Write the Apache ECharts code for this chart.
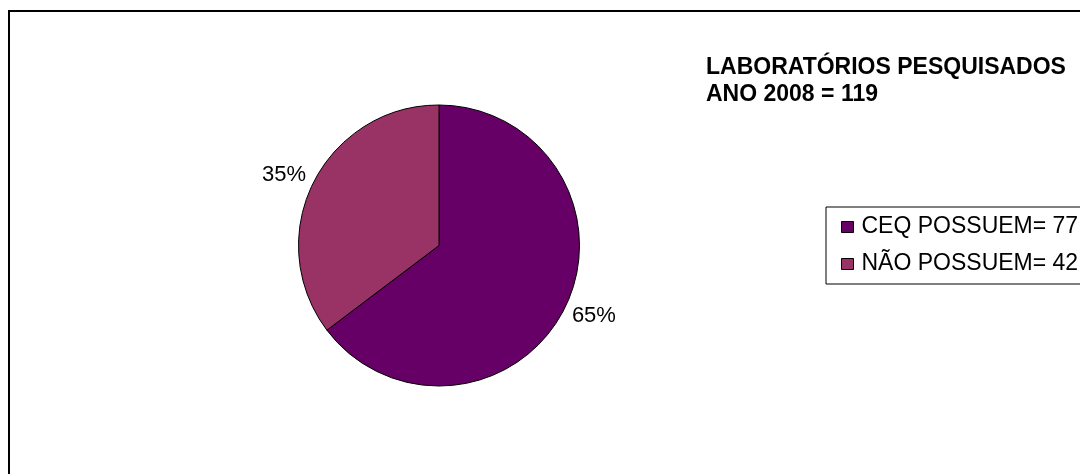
<!DOCTYPE html>
<html>
<head>
<meta charset="utf-8">
<script src="https://cdn.jsdelivr.net/npm/echarts@6/dist/echarts.min.js"></script>
<style>
  html, body { margin: 0; padding: 0; background: #fff; }
  #chart { width: 1080px; height: 474px; }
</style>
</head>
<body>
<div id="chart"></div>
<script>
// Laboratories surveyed in 2008, split by whether they have CEQ
const categories = ['CEQ POSSUEM', 'NÃO POSSUEM'];
const counts = [77, 42];
const sliceColors = ['#660066', '#993366'];
const titleLines = ['LABORATÓRIOS PESQUISADOS', 'ANO 2008 = 119'];

const FONT = '"Liberation Sans", Arial, sans-serif';

const chart = echarts.init(document.getElementById('chart'), null, { renderer: 'canvas' });

const pieData = categories.map((name, i) => ({
  name: name,
  value: counts[i],
  itemStyle: { color: sliceColors[i] }
}));

chart.setOption({
  backgroundColor: '#ffffff',
  animation: false,
  title: {
    text: titleLines.join('\n'),
    left: 706,
    top: 54,
    padding: 0,
    textStyle: {
      fontFamily: FONT,
      fontSize: 23,
      fontWeight: 'bold',
      color: '#000',
      lineHeight: 27
    }
  },
  legend: {
    orient: 'vertical',
    left: 826,
    top: 207,
    padding: [8, 10, 8, 15],
    itemGap: 13,
    itemWidth: 12,
    itemHeight: 11,
    icon: 'rect',
    borderColor: '#000',
    borderWidth: 1,
    borderRadius: 0,
    backgroundColor: '#fff',
    data: categories,
    formatter: function (name) {
      return name + '= ' + counts[categories.indexOf(name)];
    },
    itemStyle: { borderColor: '#000', borderWidth: 1 },
    textStyle: {
      fontFamily: FONT,
      fontSize: 23,
      color: '#000',
      lineHeight: 24,
      padding: [0, 0, 0, 3]
    }
  },
  graphic: [{
    type: 'rect',
    silent: true,
    z: -1,
    shape: { x: 9, y: 11, width: 1200, height: 600 },
    style: { fill: 'none', stroke: '#000', lineWidth: 2 }
  }],
  series: [{
    type: 'pie',
    center: [439, 245.5],
    radius: 140.5,
    startAngle: 90,
    clockwise: true,
    avoidLabelOverlap: false,
    data: pieData,
    itemStyle: { borderColor: '#000', borderWidth: 1 },
    emphasis: { disabled: true },
    label: {
      show: true,
      position: 'outside',
      distanceToLabelLine: -9,
      fontFamily: FONT,
      fontSize: 22,
      color: '#000',
      formatter: function (p) { return Math.round(p.percent) + '%'; }
    },
    labelLine: { show: false, length: 18, length2: 0 }
  }]
});
</script>
</body>
</html>
